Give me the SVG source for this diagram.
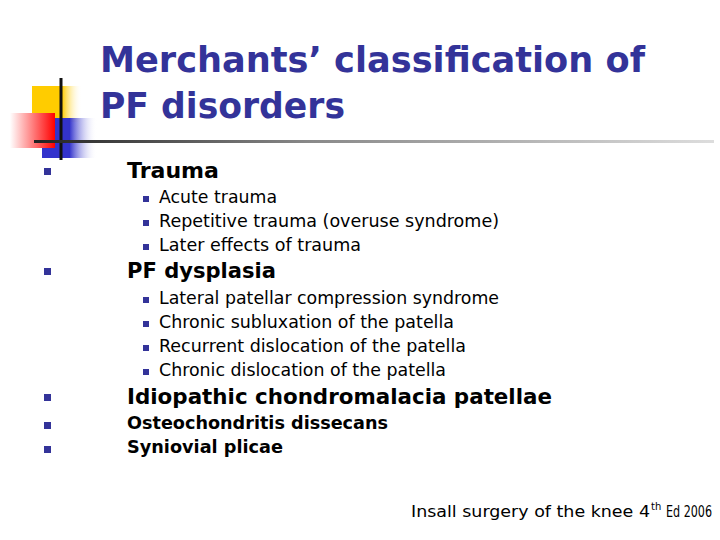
<svg xmlns="http://www.w3.org/2000/svg" width="720" height="540" viewBox="0 0 720 540">
<style>
.t{font-family:"DejaVu Sans",Verdana,sans-serif;font-weight:bold;fill:#333399;font-size:36px}
.h{font-family:"DejaVu Sans",Verdana,sans-serif;font-weight:bold;fill:#000;font-size:22px}
.h2{font-family:"DejaVu Sans",Verdana,sans-serif;font-weight:bold;fill:#000;font-size:18px}
.s{font-family:"DejaVu Sans",Verdana,sans-serif;fill:#000;font-size:18px}
.c{font-family:"DejaVu Sans",Verdana,sans-serif;fill:#000;font-size:16px}
.sup{font-family:"DejaVu Sans",Verdana,sans-serif;fill:#000;font-size:10px}
.b{fill:#333399}
</style>
<defs>
<linearGradient id="gy" x1="0" x2="1"><stop offset="0" stop-color="#ffcc00"/><stop offset="0.6" stop-color="#ffcc00"/><stop offset="1" stop-color="#fff" stop-opacity="0"/></linearGradient>
<linearGradient id="gr" x1="0" x2="1"><stop offset="0" stop-color="#fff"/><stop offset="1" stop-color="#ff0000"/></linearGradient>
<linearGradient id="gb" x1="0" x2="1"><stop offset="0" stop-color="#3333cc"/><stop offset="0.5" stop-color="#3333cc"/><stop offset="1" stop-color="#fff" stop-opacity="0"/></linearGradient>
<linearGradient id="gl" x1="0" x2="1"><stop offset="0" stop-color="#222"/><stop offset="0.4" stop-color="#888"/><stop offset="1" stop-color="#ddd"/></linearGradient>
</defs>
<rect width="720" height="540" fill="#fff"/>
<g id="logo">
<rect x="32" y="86" width="50" height="36" fill="url(#gy)"/>
<rect x="42" y="118" width="55" height="40" fill="url(#gb)"/>
<rect x="10" y="113" width="45" height="35" fill="url(#gr)"/>
<line x1="61" y1="78" x2="61" y2="160" stroke="#111" stroke-width="3"/>
<rect x="34" y="140" width="680" height="3" fill="url(#gl)"/>
</g>
<g id="title">
<text class="t" x="100" y="72" textLength="545" lengthAdjust="spacingAndGlyphs">Merchants’ classification of</text>
<text class="t" x="100" y="118" textLength="245" lengthAdjust="spacingAndGlyphs">PF disorders</text>
</g>
<g id="body">
<rect class="b" x="44" y="168" width="7" height="7"/>
<text class="h" x="127" y="178" textLength="92" lengthAdjust="spacingAndGlyphs">Trauma</text>
<rect class="b" x="143" y="196" width="6" height="6"/>
<text class="s" x="159" y="203" textLength="118" lengthAdjust="spacingAndGlyphs">Acute trauma</text>
<rect class="b" x="143" y="220" width="6" height="6"/>
<text class="s" x="159" y="227" textLength="340" lengthAdjust="spacingAndGlyphs">Repetitive trauma (overuse syndrome)</text>
<rect class="b" x="143" y="244" width="6" height="6"/>
<text class="s" x="159" y="251" textLength="202" lengthAdjust="spacingAndGlyphs">Later effects of trauma</text>
<rect class="b" x="44" y="268" width="7" height="7"/>
<text class="h" x="127" y="278" textLength="149" lengthAdjust="spacingAndGlyphs">PF dysplasia</text>
<rect class="b" x="143" y="297" width="6" height="6"/>
<text class="s" x="159" y="304" textLength="340" lengthAdjust="spacingAndGlyphs">Lateral patellar compression syndrome</text>
<rect class="b" x="143" y="321" width="6" height="6"/>
<text class="s" x="159" y="328" textLength="295" lengthAdjust="spacingAndGlyphs">Chronic subluxation of the patella</text>
<rect class="b" x="143" y="345" width="6" height="6"/>
<text class="s" x="159" y="352" textLength="307" lengthAdjust="spacingAndGlyphs">Recurrent dislocation of the patella</text>
<rect class="b" x="143" y="369" width="6" height="6"/>
<text class="s" x="159" y="376" textLength="287" lengthAdjust="spacingAndGlyphs">Chronic dislocation of the patella</text>
<rect class="b" x="44" y="394" width="7" height="7"/>
<text class="h" x="127" y="404" textLength="425" lengthAdjust="spacingAndGlyphs">Idiopathic chondromalacia patellae</text>
<rect class="b" x="44" y="422" width="7" height="7"/>
<text class="h2" x="127" y="429" textLength="261" lengthAdjust="spacingAndGlyphs">Osteochondritis dissecans</text>
<rect class="b" x="44" y="446" width="7" height="7"/>
<text class="h2" x="127" y="453" textLength="156" lengthAdjust="spacingAndGlyphs">Syniovial plicae</text>
<text class="c" x="411" y="517" textLength="239" lengthAdjust="spacingAndGlyphs">Insall surgery of the knee 4</text>
<text class="sup" x="651" y="510">th</text>
<text class="c" x="666" y="517" textLength="46" lengthAdjust="spacingAndGlyphs">Ed 2006</text>
</g>
</svg>
